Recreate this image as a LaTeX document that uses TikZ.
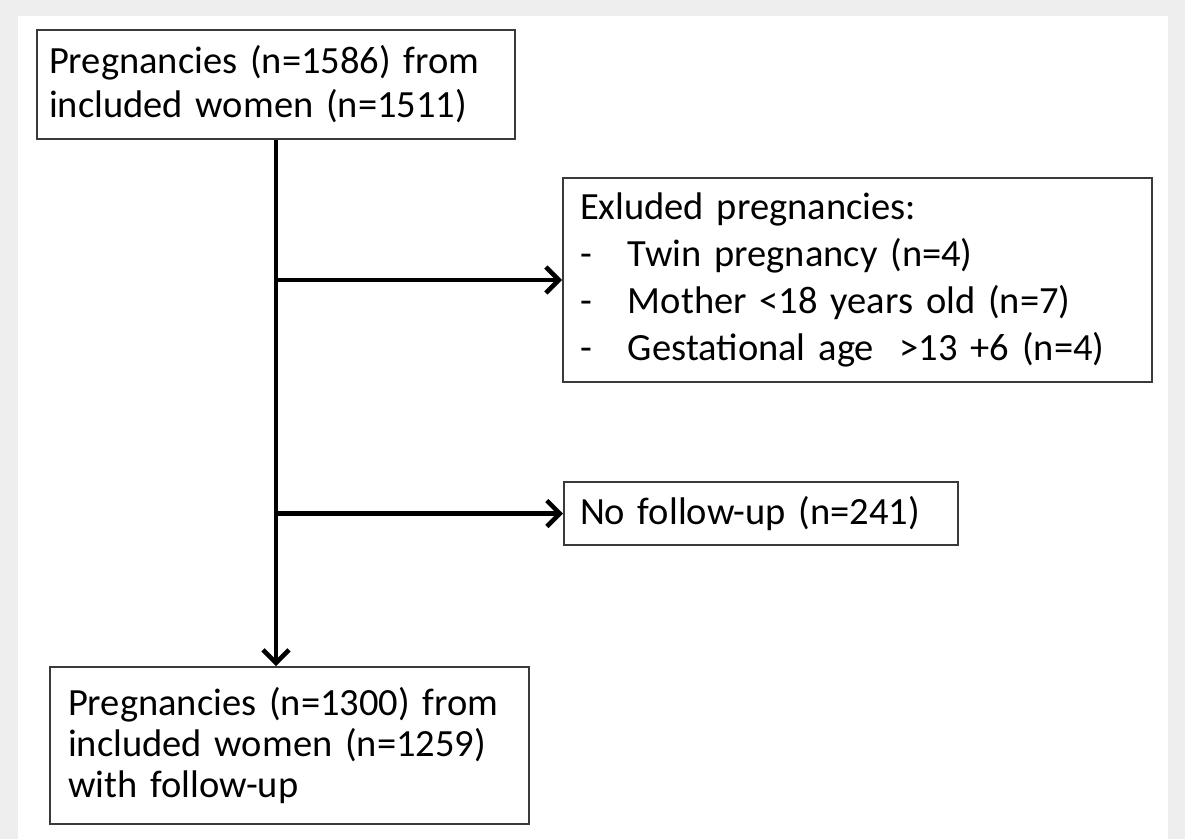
\documentclass[tikz,border=0pt]{standalone}
\usepackage{fontspec}
\setmainfont{Carlito}
\usetikzlibrary{arrows.meta}
\definecolor{bggray}{HTML}{EEEEEE}
\definecolor{boxgray}{HTML}{3A3A3A}
\begin{document}
\begin{tikzpicture}[x=1pt,y=-1pt,
  box/.style={draw=boxgray, line width=2pt, fill=white, rectangle, anchor=north west,
    align=left, inner ysep=0pt, font=\fontsize{38.5pt}{44pt}\selectfont},
  conn/.style={line width=4.5pt, black, line cap=butt,
    -{Straight Barb[length=13pt,width=26pt]}}
]
\fill[bggray] (0,0) rectangle (1185,839);
\fill[white] (18,16) rectangle (1168,839);
\useasboundingbox (0,0) rectangle (1185,839);

\node[box, minimum width=478pt, minimum height=109pt, inner xsep=12pt, text width=454pt] (b1) at (36,29)
  {Pregnancies (n=1586) from\\included women (n=1511)};

\node[box, minimum width=589pt, minimum height=204pt, inner xsep=17pt, text width=555pt,
  font=\fontsize{38.5pt}{47pt}\selectfont] (b2) at (562,177)
  {Exluded pregnancies:\\
   \makebox[48pt][l]{-}Twin pregnancy (n=4)\\
   \makebox[48pt][l]{-}Mother <18 years old (n=7)\\
   \makebox[48pt][l]{-}Gestational age\ \ >13 +6 (n=4)};

\node[box, minimum width=394pt, minimum height=63pt, inner xsep=16pt, text width=362pt] (b3) at (563,481)
  {No follow-up (n=241)};

\node[box, minimum width=479pt, minimum height=157pt, inner xsep=18pt, text width=443pt,
  font=\fontsize{38.5pt}{41pt}\selectfont] (b4) at (49,666)
  {Pregnancies (n=1300) from\\included women (n=1259)\\with follow-up};

\coordinate (j1) at (b1.south |- b2.west);
\coordinate (j2) at (b1.south |- b3.west);
\draw[conn] (b1.south) -- (b1.south |- b4.north);
\draw[conn] (j1) -- (b2.west);
\draw[conn] (j2) -- (b3.west);
\end{tikzpicture}
\end{document}
